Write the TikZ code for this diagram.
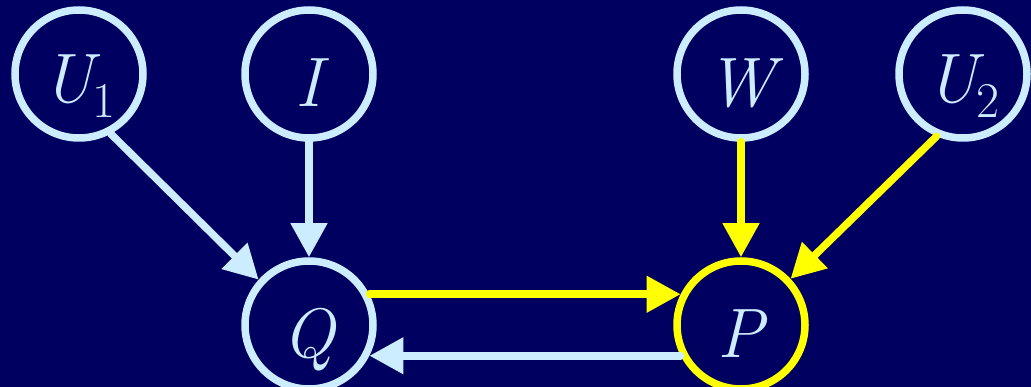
\documentclass[tikz,border=0pt]{standalone}
\usetikzlibrary{arrows.meta}
\definecolor{bgnavy}{HTML}{000060}
\definecolor{lblue}{HTML}{CCECFF}
\definecolor{yel}{HTML}{FFFF00}
\newcommand{\lowsub}[1]{\raisebox{-15pt}{\fontsize{50}{50}\selectfont\upshape #1}}
\begin{document}
\begin{tikzpicture}[x=1pt,y=-1pt,
  var/.style={circle,draw=lblue,line width=7.5pt,minimum size=128pt,inner sep=0pt,
    text=lblue,font=\fontsize{70}{70}\selectfont\itshape,text height=66pt,text depth=0pt},
  subvar/.style={var,text height=58pt},
  hl/.style={draw=yel},
  edge/.style={line width=7.5pt,line cap=round,-{Triangle[length=34pt,width=35pt]}},
  bluee/.style={edge,draw=lblue,fill=lblue},
  yele/.style={edge,draw=yel,fill=yel}]
\useasboundingbox (0,0) rectangle (1031,387);
\fill[bgnavy] (0,0) rectangle (1031,387);
\node[subvar] (U1) at (79,74) {U\lowsub{1}};
\node[var] (I) at (309,74) {I};
\node[var] (W) at (741,74) {W};
\node[subvar] (U2) at (963,74) {U\lowsub{2}};
\node[var] (Q) at (309,325) {Q};
\node[var,hl] (P) at (741,325) {P};
\draw[bluee] (U1.-62) -- (Q.138);
\draw[bluee] (I.south) -- (Q.north);
\draw[yele] (W.south) -- (P.north);
\draw[yele] (U2.-113) -- (P.43);
\draw[yele] (Q.27) -- (P.153);
\draw[bluee] (P.207) -- (Q.333);
\end{tikzpicture}
\end{document}
